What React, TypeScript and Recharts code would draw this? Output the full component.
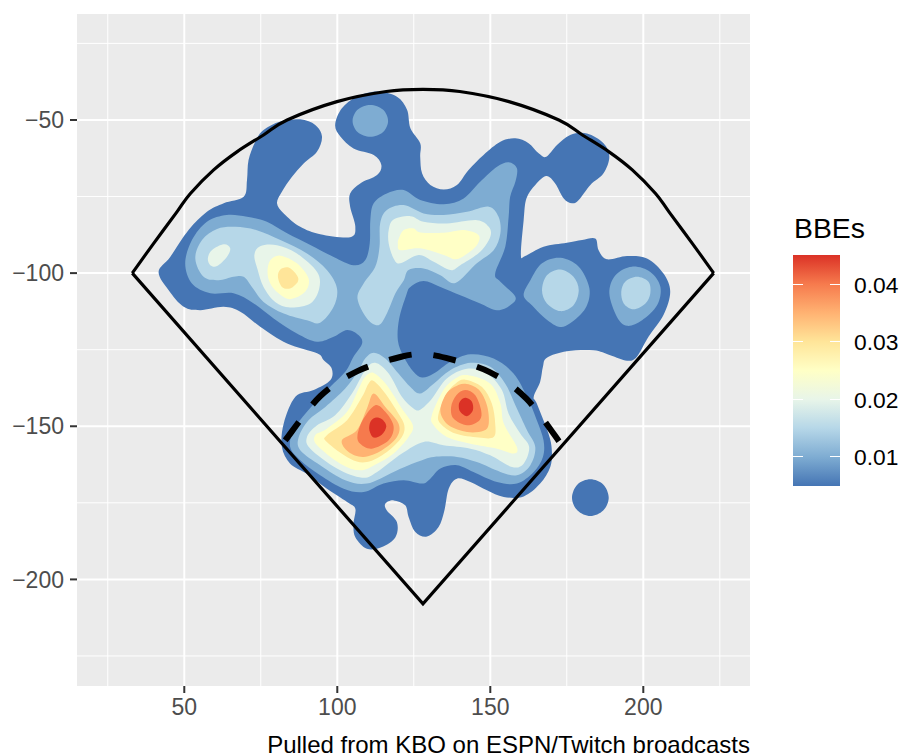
import { ScatterChart, Scatter, XAxis, YAxis, CartesianGrid } from "recharts"

type Pt = number[]

// density bands, lowest to highest in data units
const band1: Pt[][] = [
  [[41.6,-99.6],[45.4,-94.7],[51.4,-85.9],[57.4,-80],[62.9,-77.2],[69.4,-75.1],[70.5,-69.6],[71,-63.1],[73.2,-57.1],[75.9,-53.3],[81.4,-50.5],[87.9,-49.8],[92.8,-51.6],[95,-55.4],[93.4,-60.3],[89,-64.2],[85.2,-68.5],[81.9,-73.4],[80.3,-77.2],[82.5,-80.5],[87.9,-84.9],[94.4,-87.3],[104.2,-88.3],[105.9,-84.9],[104.2,-78.3],[104.2,-74],[107.5,-70.7],[113,-68],[114.4,-64.7],[111.9,-61.4],[105.3,-59.3],[101,-55.4],[99.3,-51.6],[101.5,-46.2],[106.4,-42.4],[113,-40.7],[119.5,-42.4],[122.8,-46.7],[123.9,-52.7],[127.1,-57.6],[127.1,-62],[127.7,-67.4],[130.4,-71.2],[134.8,-72.7],[139.1,-71.2],[142.9,-66.3],[147.8,-61.4],[153.3,-57.1],[158.2,-56],[162.5,-57.6],[165.8,-60.9],[168.3,-62],[171.8,-58.2],[176.1,-54.9],[181.6,-54.4],[187,-57.6],[188.9,-62],[187,-67.4],[182.7,-71.2],[178.9,-76.1],[176.7,-77.2],[174,-75.6],[171.2,-70.7],[168.3,-68.3],[164.7,-71.2],[161.8,-75.6],[160.9,-82.7],[160,-94.1],[161.4,-94.4],[167.4,-91.4],[175,-90.1],[180,-89.2],[184.3,-88.7],[185.4,-92.5],[188.1,-95.5],[194.7,-94.4],[201.2,-95.2],[206.6,-100.1],[208.8,-106.1],[206.6,-113.7],[201.7,-120.8],[197.9,-127.3],[194.7,-128.6],[189.2,-126.8],[183.8,-125.2],[175,-125.5],[168.5,-127.6],[167.2,-130.6],[166.3,-135.5],[164.2,-140.4],[165.2,-142.6],[169,-152.4],[170.1,-157.8],[169.6,-163.3],[166.3,-168.7],[160.9,-172.9],[154.4,-173.1],[148.9,-170.9],[143.5,-168.2],[139.1,-167.1],[136.4,-170.4],[135,-177.5],[133.1,-182.9],[129.3,-186],[125.5,-184.5],[123.3,-179.6],[122.2,-175.8],[118.4,-174.2],[115.7,-175.3],[116.2,-177.5],[119.5,-181.3],[119,-186.2],[114.6,-189.4],[109.7,-190],[105.9,-186.2],[105.3,-181.8],[105.9,-176.9],[103.2,-174.7],[96.6,-170.4],[90.1,-165.5],[84.6,-162.2],[81.9,-156.8],[82.5,-149.1],[86.3,-140.4],[92.3,-138.2],[97.7,-135],[98.2,-131.2],[95.5,-128.4],[93.4,-126.2],[83.6,-123],[74.8,-117.5],[68.3,-112.6],[62.9,-111],[55.2,-112.1],[49.8,-111],[44.9,-105.6]],
  [[188.7,-173.3],[186.9,-169],[182.7,-167.3],[178.5,-169],[176.7,-173.3],[178.5,-177.5],[182.7,-179.3],[186.9,-177.5]],
]
const band2: Pt[][] = [
  [[116.6,-50.3],[114.9,-46.6],[110.8,-45.1],[106.7,-46.6],[105,-50.3],[106.7,-54],[110.8,-55.5],[114.9,-54]],
  [[50.3,-96.8],[52.5,-89.2],[57.4,-83.2],[63.9,-81],[70.5,-81.6],[77,-83.2],[83.6,-87],[91.2,-90.8],[98.8,-94.7],[105.3,-97.4],[109.1,-95.8],[110.6,-90.3],[110.8,-82.7],[111.9,-77.2],[116.2,-74],[121.7,-72.9],[127.1,-76.1],[134.8,-77.5],[141.3,-75.6],[146.7,-70.2],[152.2,-65.3],[156,-63.8],[158.7,-65.8],[158.2,-70.2],[156.5,-75.1],[156,-81.6],[154.9,-91.4],[151.6,-100.1],[153.3,-102.8],[158.2,-107.7],[156.5,-110.5],[152.2,-112.1],[146.7,-109.9],[140.2,-107.2],[133.7,-104.5],[128.2,-102.6],[123.9,-104.5],[122.5,-107.3],[120.2,-115],[119.8,-122],[121.7,-127.3],[124.9,-132.2],[127.7,-134.1],[131.5,-132.8],[136.9,-129],[143.5,-126.5],[151.1,-127.9],[157.6,-132.8],[162,-140.4],[165.2,-148],[167.4,-154.6],[167.2,-160],[164.2,-164.9],[158.7,-168.7],[152.2,-168.2],[144.5,-164.9],[139.1,-162.7],[133.7,-163.8],[130.4,-167.1],[127.7,-168.7],[121.7,-167.6],[115.1,-168.7],[108.6,-171.5],[102.1,-170.4],[94.4,-166],[87.9,-161.1],[84.6,-156.8],[85.7,-151.3],[90.1,-145.3],[96.6,-138.2],[102.6,-132.2],[105.3,-127.3],[108.1,-123],[107,-120.3],[103.2,-118.6],[98.8,-120.8],[93.4,-122.4],[86.8,-119.7],[79.2,-114.8],[72.7,-109.9],[66.1,-106.6],[58.5,-106.6],[52.5,-103.4]],
  [[160.9,-107.2],[163.1,-102.3],[166.9,-96.8],[172.9,-95],[178.9,-97.9],[182.4,-105],[181.1,-111.5],[176.1,-116.4],[172.3,-117.5],[167.4,-114.3],[163.6,-110.5]],
  [[188.9,-106.6],[190.9,-100.7],[196.3,-97.9],[202.3,-99.6],[205.6,-104.5],[204.5,-110.5],[199.6,-115.4],[194.7,-117.2],[191.4,-114.3]],
]
const band3: Pt[][] = [
  [[166.9,-105.6],[168.5,-100.7],[172.9,-98.8],[177.2,-101.2],[178.9,-105.6],[177.2,-110.5],[172.9,-112.4],[168.5,-109.9]],
  [[192.8,-106.1],[194.1,-102.8],[197.9,-101.2],[201.7,-102.8],[202.3,-106.6],[200.7,-109.9],[196.8,-111.8],[193.6,-109.9]],
  [[53.6,-95.2],[55.8,-89.2],[60.7,-85.6],[66.7,-84.9],[73.7,-86],[81.4,-89.2],[90.1,-93.6],[96.6,-99],[99.9,-105],[98.8,-111],[94.4,-116.2],[90.1,-115.4],[82.5,-113.2],[75.9,-109.4],[72.1,-104.5],[69.4,-101.2],[66.1,-101.2],[61.2,-102.3],[56.3,-101.2]],
  [[106.6,-108.3],[108.6,-103.4],[112.4,-97.9],[113.8,-91.4],[114,-83.8],[116.2,-79.4],[121.7,-77.8],[128.2,-80.5],[134.8,-81],[142.4,-80],[149.5,-78.3],[152.7,-81.6],[153.3,-87],[151.1,-92.5],[145.6,-96.8],[138.6,-103.2],[133.7,-100.7],[128.2,-98.5],[123.3,-99],[121.7,-102.4],[119,-106.6],[116.2,-113.2],[113.5,-117],[109.7,-114.8]],
  [[111.9,-126],[115.7,-127.9],[120,-132.8],[123.9,-137.2],[127.1,-139.3],[131.5,-136.1],[136.9,-131.7],[143.5,-129.3],[150,-130.6],[154.9,-136.1],[158.2,-143.1],[162,-151.3],[164.7,-156.8],[163.1,-162.7],[158.7,-166],[153.3,-164.9],[145.6,-161.7],[139.1,-160],[131.5,-160],[126,-161.7],[118.4,-164.9],[109.7,-168.7],[102.6,-167.6],[94.4,-162.7],[87.9,-157.8],[87.4,-153.5],[90.6,-148],[96.1,-143.7],[102.6,-137.7],[107,-131.7],[109.1,-127.9]],
]
const band4: Pt[][] = [
  [[57.7,-95.2],[59,-92.5],[62.9,-90.6],[65,-91.9],[63.9,-94.7],[60.7,-97.7],[58.5,-97.4]],
  [[72.9,-94.1],[74.8,-91.2],[80.3,-90.9],[86.8,-93.6],[93.4,-99.6],[94.1,-105],[91.2,-109.9],[84.6,-111.2],[79.7,-109.4],[75.9,-104.5],[74,-99]],
  [[116.8,-85.9],[118.4,-82.5],[123.9,-81.4],[128.2,-83.2],[135.8,-83.8],[145.6,-82.7],[149.5,-84.9],[150,-88.1],[146.7,-93],[140.2,-97.4],[136.9,-99],[131.5,-96.3],[126.6,-94.1],[120.6,-96.8],[118.4,-95.2],[116.8,-90.3]],
  [[112.4,-129.3],[116.8,-132.8],[121.1,-140.4],[124.9,-144.2],[127.1,-144.6],[130.9,-141],[135.8,-134.4],[142.4,-131.2],[148.9,-132.8],[153.8,-138.2],[156,-145.9],[159.8,-152.4],[162.7,-156.8],[160.9,-162.2],[157.1,-163.3],[150,-159.5],[143.5,-157.3],[134.7,-156.2],[128.2,-155.1],[121.1,-158.9],[113,-164.9],[108.1,-166.8],[99.9,-163.8],[91.2,-157.3],[90.1,-153.5],[93.4,-149.7],[99.3,-146.4],[104.8,-139.3],[109.1,-131.7]],
]
const band5: Pt[][] = [
  [[77.2,-99.6],[78.1,-95.8],[81.4,-94.3],[86.8,-96.8],[90.6,-101.7],[89.5,-106.1],[84.6,-108.5],[80.8,-106.6],[78.1,-103.4]],
  [[120.1,-88.7],[121.7,-85.9],[125,-85.4],[127.1,-86.7],[134.8,-86.8],[141.3,-85.9],[146.2,-87.6],[145.6,-90.9],[141.8,-94.1],[138.6,-95.5],[134.8,-94.1],[127.1,-91.9],[120.6,-92.5],[119.8,-90.5]],
  [[111.9,-132.6],[116.2,-136.6],[121.1,-144.2],[124.7,-149.7],[123.3,-153.5],[118.4,-158.9],[113,-162.2],[107.5,-164.4],[101,-162.2],[93.4,-156.2],[92.8,-152.9],[96.6,-150.8],[103.2,-145.3],[107,-137.7],[109.1,-133.9]],
  [[142.4,-133.3],[150,-136.1],[153.3,-142.6],[154.4,-149.1],[158.7,-156.8],[157.6,-158.9],[152.2,-157.3],[143.5,-155.7],[135.8,-153.5],[131.5,-149.7],[130.9,-146.4],[134.7,-138.2],[138.6,-134.4]],
]
const band6: Pt[][] = [
  [[80.6,-101.2],[81.4,-98.8],[84.1,-98.2],[86.8,-100.7],[87.1,-102.8],[84.6,-105],[81.9,-104.5]],
  [[111.9,-135.2],[115.7,-139.3],[120,-145.9],[121.9,-149.7],[121.1,-153.5],[116.2,-158.4],[109.7,-161.7],[104.2,-160.6],[96.6,-155.1],[96.6,-152.9],[103.2,-148],[108.1,-140.4],[110.2,-136.1]],
  [[141.8,-134.8],[147.3,-137.2],[150.5,-142.6],[151.6,-149.1],[151.1,-153.5],[146.2,-153.7],[138.6,-152.4],[133.7,-149.1],[133.1,-145.9],[135.8,-139.3],[138.6,-136.1]],
]
const band7: Pt[][] = [
  [[111.9,-139.3],[115.7,-143.7],[120,-149.1],[119.5,-153.5],[114.6,-157.8],[108.6,-160],[103.7,-158.4],[101.5,-154.6],[106.4,-151.3],[109.7,-144.2]],
  [[141.8,-136.1],[146.2,-138],[148.9,-143.1],[149.5,-149.1],[147.8,-151.5],[142.4,-151.9],[136.4,-149.7],[133.7,-145.3],[135.3,-139.9],[138.2,-137.2]],
]
const band8: Pt[][] = [
  [[112.4,-143.1],[115.7,-145.3],[118.4,-150],[116.8,-154.6],[111.3,-157.3],[107.5,-155.7],[106.6,-152.9],[108.6,-147.5]],
  [[141.8,-138.2],[145.1,-139.9],[147,-144.8],[146.5,-148],[142.4,-149.7],[138,-147.5],[137.2,-143.7],[138.9,-139.9]],
]
const band9: Pt[][] = [
  [[112.4,-147.2],[114.6,-147.7],[116,-150],[114.6,-152.7],[111.9,-153.7],[110.5,-151.3],[110.8,-148.6]],
  [[142,-140.7],[144,-142],[144.3,-144.8],[142.4,-146.7],[140.2,-145.3],[139.7,-143.1],[140.4,-141.5]],
]

const bands = [band1, band2, band3, band4, band5, band6, band7, band8, band9]
const bandColors = ["#4575B4", "#7EACD2", "#B6D7E8", "#E8F5E9", "#FFFFC6", "#FFE599", "#FFB272", "#F67A4D", "#DB3226"]

// field outline
const foulLines: Pt[] = [[33,-100],[128,-208],[223,-100]]
const fence: Pt[] = [[33,-100],[40,-90.3],[47.6,-80],[52,-74],[59.6,-66.3],[67.2,-60.4],[75.9,-54.9],[83.6,-50],[99.9,-44],[116,-40.7],[128,-40],[140,-40.7],[156.1,-44],[172.4,-50],[180.1,-54.9],[188.8,-60.4],[196.4,-66.3],[204,-74],[208.4,-80],[216,-90.3],[223,-100]]
const infield: Pt[] = [[83,-154.6],[94.4,-140.2],[106.6,-132],[120.9,-127.3],[128.2,-126.5],[135.5,-127.7],[149.8,-132.3],[161.8,-141],[173.4,-156.2]]

const xTicks = [50, 100, 150, 200]
const yTicks = [-50, -100, -150, -200]
const xMinor = [25, 75, 125, 175, 225]
const yMinor = [-25, -75, -125, -175, -225]
const xDomain = [14.94, 234.87]
const yDomain = [-234.8, -15.4]
const legendTicks = [
  { label: "0.04", top: 284 },
  { label: "0.03", top: 341 },
  { label: "0.02", top: 399 },
  { label: "0.01", top: 456 },
]

const FONT = "'Liberation Sans', Arial, sans-serif"

// catmull-rom through the points so the contours come out round
function smoothPath(pts: { x: number; y: number }[], closed: boolean) {
  const n = pts.length
  const at = (i: number) => (closed ? pts[(i + n) % n] : pts[Math.max(0, Math.min(n - 1, i))])
  let d = `M${pts[0].x},${pts[0].y}`
  const last = closed ? n : n - 1
  for (let i = 0; i < last; i++) {
    const p0 = at(i - 1), p1 = at(i), p2 = at(i + 1), p3 = at(i + 2)
    const c1x = p1.x + (p2.x - p0.x) / 6
    const c1y = p1.y + (p2.y - p0.y) / 6
    const c2x = p2.x - (p3.x - p1.x) / 6
    const c2y = p2.y - (p3.y - p1.y) / 6
    d += `C${c1x},${c1y} ${c2x},${c2y} ${p2.x},${p2.y}`
  }
  return closed ? d + "Z" : d
}

const toRows = (pts: Pt[]) => pts.map(([x, y]) => ({ x, y }))
const noDot = () => null

export default function App() {
  return (
    <div style={{ position: "absolute", left: 0, top: 0, width: 902, height: 755, background: "#fff", fontFamily: FONT, overflow: "hidden" }}>
      <ScatterChart width={902} height={755} margin={{ top: 14, right: 152, bottom: 39, left: 17 }}>
        <CartesianGrid fill="#EBEBEB" stroke="#fff" strokeWidth={1} horizontalValues={yMinor} verticalValues={xMinor} />
        <CartesianGrid stroke="#fff" strokeWidth={2} horizontalValues={yTicks} verticalValues={xTicks} />
        <XAxis
          type="number"
          dataKey="x"
          domain={xDomain}
          ticks={xTicks}
          allowDataOverflow
          height={30}
          axisLine={false}
          tickSize={7}
          tickMargin={6}
          tickLine={{ stroke: "#333", strokeWidth: 2 }}
          tick={{ fill: "#4D4D4D", fontSize: 23, fontFamily: FONT }}
        />
        <YAxis
          type="number"
          dataKey="y"
          domain={yDomain}
          ticks={yTicks}
          allowDataOverflow
          width={60}
          axisLine={false}
          tickSize={7}
          tickMargin={6}
          tickLine={{ stroke: "#333", strokeWidth: 2 }}
          tick={{ fill: "#4D4D4D", fontSize: 23, fontFamily: FONT }}
          tickFormatter={(v: number) => String(v).replace("-", "\u2212")}
        />
        {bands.flatMap((polys, b) =>
          polys.map((poly, i) => (
            <Scatter
              key={`band-${b}-${i}`}
              data={toRows(poly)}
              isAnimationActive={false}
              shape={noDot}
              line={(p: any) => <path d={smoothPath(p.points, true)} fill={bandColors[b]} stroke="none" />}
            />
          ))
        )}
        <Scatter
          data={toRows(foulLines)}
          isAnimationActive={false}
          shape={noDot}
          line={(p: any) => (
            <path d={`M${p.points.map((q: any) => `${q.x},${q.y}`).join("L")}`} fill="none" stroke="#000" strokeWidth={3.2} />
          )}
        />
        <Scatter
          data={toRows(fence)}
          isAnimationActive={false}
          shape={noDot}
          line={(p: any) => <path d={smoothPath(p.points, false)} fill="none" stroke="#000" strokeWidth={3.2} />}
        />
        <Scatter
          data={toRows(infield)}
          isAnimationActive={false}
          shape={noDot}
          line={(p: any) => (
            <path d={smoothPath(p.points, false)} fill="none" stroke="#000" strokeWidth={6} strokeDasharray="23 22" />
          )}
        />
      </ScatterChart>

      {/* colour bar */}
      <div style={{ position: "absolute", left: 794, top: 213, fontSize: 28.4, lineHeight: "30px", color: "#000" }}>BBEs</div>
      <div
        style={{
          position: "absolute",
          left: 793,
          top: 255,
          width: 47,
          height: 231,
          background: `linear-gradient(to top, ${bandColors.join(",")})`,
        }}
      />
      {legendTicks.map((t) => (
        <div key={t.label}>
          <div style={{ position: "absolute", left: 793, top: t.top, width: 10, height: 1, background: "#fff" }} />
          <div style={{ position: "absolute", left: 830, top: t.top, width: 10, height: 1, background: "#fff" }} />
          <div style={{ position: "absolute", left: 854, top: t.top - 10, fontSize: 22.8, lineHeight: "22px", color: "#000" }}>
            {t.label}
          </div>
        </div>
      ))}
      <div style={{ position: "absolute", right: 152, top: 735, fontSize: 24, lineHeight: "20px", color: "#000", whiteSpace: "nowrap" }}>
        Pulled from KBO on ESPN/Twitch broadcasts
      </div>
    </div>
  )
}
